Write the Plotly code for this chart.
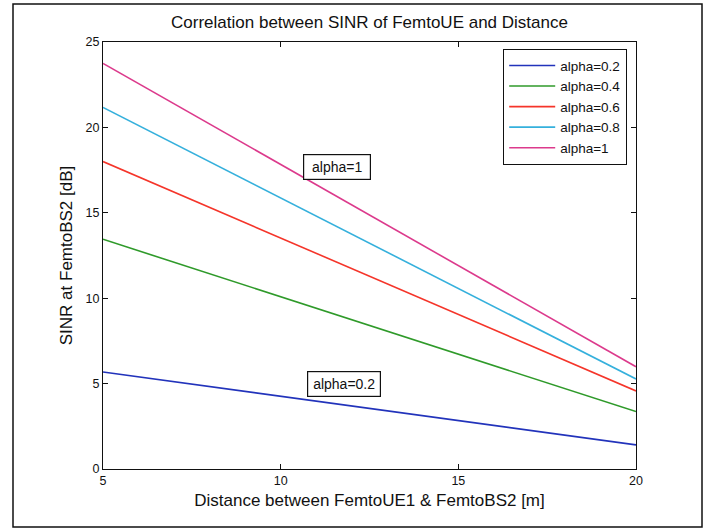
import plotly.graph_objects as go

distance = [5, 20]
sinr_02 = [5.68, 1.41]
sinr_04 = [13.45, 3.36]
sinr_06 = [18.0, 4.57]
sinr_08 = [21.17, 5.27]
sinr_10 = [23.75, 5.99]

series = [
    ("alpha=0.2", sinr_02, "#2233bb"),
    ("alpha=0.4", sinr_04, "#2f9a2a"),
    ("alpha=0.6", sinr_06, "#f5352a"),
    ("alpha=0.8", sinr_08, "#35b0dc"),
    ("alpha=1", sinr_10, "#dc3a8c"),
]

x_ticks = [5, 10, 15, 20]
y_ticks = [0, 5, 10, 15, 20, 25]

fig = go.Figure()
for name, vals, col in series:
    fig.add_trace(go.Scatter(x=distance, y=vals, mode="lines", name=name,
                             line=dict(color=col, width=1.6)))

W, H = 714, 530
L, R, T, B = 103, 636, 42, 469
pw, ph = R - L, B - T

def px(xp):
    return (xp - L) / pw

def py(yp):
    return (B - yp) / ph

FONT = "Arial, Liberation Sans, sans-serif"

fig.update_layout(
    width=W, height=H,
    margin=dict(l=L, r=W - R, t=T, b=H - B, pad=0),
    paper_bgcolor="white", plot_bgcolor="white",
    font=dict(family=FONT, size=12, color="#111111"),
    title=dict(text="Correlation between SINR of FemtoUE and Distance",
               x=0.5, xanchor="center", xref="paper",
               y=1 - 22 / H, yanchor="middle", yref="container",
               font=dict(size=17, color="#111111")),
    showlegend=True,
    legend=dict(x=px(503), y=py(49), xanchor="left", yanchor="top",
                bgcolor="white", bordercolor="#111111", borderwidth=1.2,
                font=dict(size=13.5, color="#111111"), itemwidth=46,
                tracegroupgap=0),
    xaxis=dict(range=[5, 20], tickvals=x_ticks, ticktext=[str(v) for v in x_ticks],
               showgrid=False, zeroline=False, showline=True, linecolor="#111111",
               linewidth=1.3, mirror="ticks", ticks="inside", ticklen=5,
               tickcolor="#111111", tickfont=dict(size=12.5, color="#111111"),
               title=dict(text="Distance between FemtoUE1 & FemtoBS2 [m]",
                          font=dict(size=17), standoff=6)),
    yaxis=dict(range=[0, 25], tickvals=y_ticks, ticktext=[str(v) for v in y_ticks],
               showgrid=False, zeroline=False, showline=True, linecolor="#111111",
               linewidth=1.3, mirror="ticks", ticks="inside", ticklen=5,
               tickcolor="#111111", tickfont=dict(size=12.5, color="#111111"),
               title=dict(text="SINR at FemtoBS2 [dB]", font=dict(size=17),
                          standoff=8)),
)

fig.add_annotation(x=11.59, y=17.68, text="alpha=1", showarrow=False,
                   width=58, height=16,
                   bgcolor="white", bordercolor="#111111", borderwidth=1.2, borderpad=4,
                   font=dict(size=14, color="#111111"))
fig.add_annotation(x=11.78, y=4.98, text="alpha=0.2", showarrow=False,
                   width=64, height=16,
                   bgcolor="white", bordercolor="#111111", borderwidth=1.2, borderpad=4,
                   font=dict(size=14, color="#111111"))

fig.add_shape(type="rect", xref="paper", yref="paper",
              x0=px(13), x1=px(702), y0=py(527), y1=py(4),
              line=dict(color="#111111", width=1.5), fillcolor="rgba(0,0,0,0)",
              layer="below")

fig.write_html("out.html")
